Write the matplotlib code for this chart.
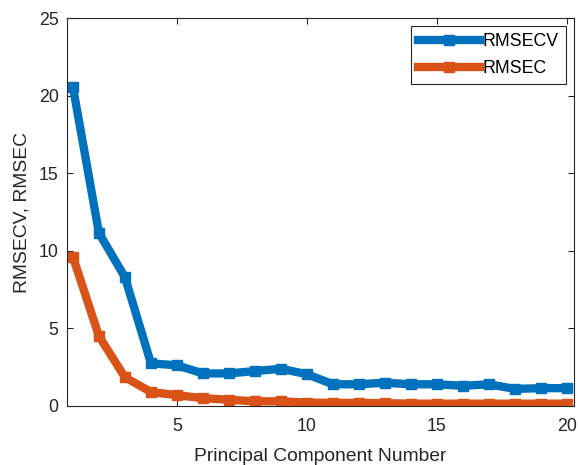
import numpy as np
import matplotlib.pyplot as plt

plt.rcParams['font.family'] = ['Liberation Sans', 'DejaVu Sans']

components = list(range(1, 21))
rmsecv = [20.55, 11.15, 8.3, 2.75, 2.62, 2.1, 2.1, 2.25, 2.4, 2.05,
          1.4, 1.4, 1.5, 1.4, 1.4, 1.3, 1.4, 1.1, 1.15, 1.15]
rmsec = [9.6, 4.5, 1.85, 0.9, 0.7, 0.5, 0.4, 0.3, 0.3, 0.22,
         0.2, 0.2, 0.18, 0.15, 0.15, 0.15, 0.15, 0.15, 0.15, 0.15]

fig = plt.figure(figsize=(5.78, 4.65), dpi=100)
ax = fig.add_axes([0.1159, 0.1269, 0.877, 0.834])

ax.plot(components, rmsecv, color="#0072BD", lw=6, marker="s", ms=7, label="RMSECV")
ax.plot(components, rmsec, color="#D95319", lw=6, marker="s", ms=7, label="RMSEC")

ax.set_xlim(0.77, 20.27)
ax.set_ylim(0, 25)
ax.set_xticks([5, 10, 15, 20])
ax.set_yticks([0, 5, 10, 15, 20, 25])
ax.tick_params(direction="in", labelsize=12.8, top=True, right=True, length=4,
               colors="#262626")
ax.tick_params(axis="x", pad=9)
ax.tick_params(axis="y", pad=6)
for s in ax.spines.values():
    s.set_color("#262626")
    s.set_linewidth(0.8)
ax.set_xlabel("Principal Component Number", fontsize=13.9, color="#262626", labelpad=9)
ax.set_ylabel("RMSECV, RMSEC", fontsize=13.9, color="#262626", labelpad=6)

leg = ax.legend(loc="upper right", fontsize=12.8, fancybox=False, framealpha=1,
                edgecolor="#262626", borderaxespad=0.45, handlelength=3.5,
                handletextpad=0.15, borderpad=0.4, labelspacing=0.55)
leg.get_frame().set_linewidth(0.8)

fig.savefig("out.png")
